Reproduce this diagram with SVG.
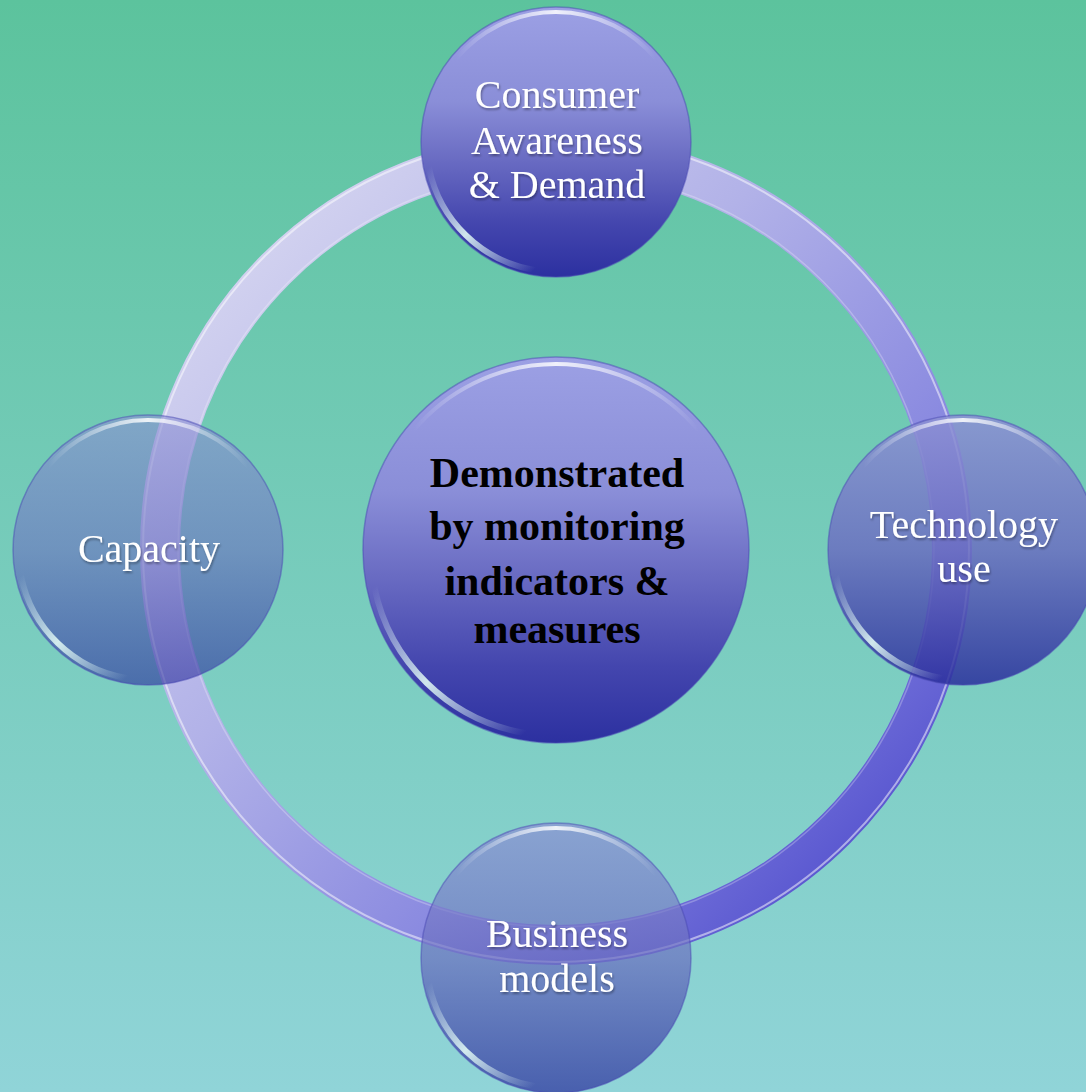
<svg xmlns="http://www.w3.org/2000/svg" width="1086" height="1092" viewBox="0 0 1086 1092">
<defs>
<linearGradient id="bg" x1="0" y1="0" x2="0" y2="1">
<stop offset="0" stop-color="#5cc39d"/>
<stop offset="1" stop-color="#90d4d8"/>
</linearGradient>
<linearGradient id="ringGrad" gradientUnits="userSpaceOnUse" x1="140" y1="133" x2="972" y2="965">
<stop offset="0" stop-color="#e2e2f3"/>
<stop offset="0.4" stop-color="#b2b2e8"/>
<stop offset="0.65" stop-color="#8a8ae0"/>
<stop offset="1" stop-color="#3a36c6"/>
</linearGradient>
<linearGradient id="orb" x1="0" y1="0" x2="0" y2="1">
<stop offset="0" stop-color="#9ca0e4"/>
<stop offset="0.35" stop-color="#8a8ed8"/>
<stop offset="0.55" stop-color="#6c6ec4"/>
<stop offset="0.8" stop-color="#4446ae"/>
<stop offset="1" stop-color="#2c30a0"/>
</linearGradient>
<linearGradient id="orbP" x1="0" y1="0" x2="0" y2="1">
<stop offset="0" stop-color="#8c90d4"/>
<stop offset="0.5" stop-color="#6a6ec0"/>
<stop offset="1" stop-color="#2a2e9c"/>
</linearGradient>
<linearGradient id="hlTop" x1="0" y1="0" x2="1" y2="0">
<stop offset="0" stop-color="#ffffff" stop-opacity="0"/>
<stop offset="0.5" stop-color="#ffffff" stop-opacity="0.85"/>
<stop offset="1" stop-color="#ffffff" stop-opacity="0"/>
</linearGradient>
<linearGradient id="hlBot" x1="1" y1="1" x2="0" y2="0">
<stop offset="0" stop-color="#e0f8f4" stop-opacity="0"/>
<stop offset="0.5" stop-color="#e0f8f4" stop-opacity="0.9"/>
<stop offset="1" stop-color="#e0f8f4" stop-opacity="0"/>
</linearGradient>
<filter id="ts" x="-10%" y="-10%" width="120%" height="130%">
<feDropShadow dx="1" dy="2" stdDeviation="1.2" flood-color="#000" flood-opacity="0.35"/>
</filter>
<g id="gloss">
<circle r="135" fill="none" stroke="#4a4ab4" stroke-opacity="0.5" stroke-width="1.5" vector-effect="non-scaling-stroke"/>
<path d="M -99.6 -83.6 A 130 130 0 0 1 99.6 -83.6" fill="none" stroke="url(#hlTop)" stroke-width="4" stroke-linecap="round" vector-effect="non-scaling-stroke"/>
<path d="M -127 26 A 130 130 0 0 0 -22 128" fill="none" stroke="url(#hlBot)" stroke-width="6" stroke-linecap="round" vector-effect="non-scaling-stroke"/>
</g>
</defs>
<style>
.lbl{font-family:"Liberation Serif","Times New Roman",serif;font-size:40px;fill:#ffffff;text-anchor:middle;filter:url(#ts)}
.ctr{font-family:"Liberation Serif","Times New Roman",serif;font-size:42px;font-weight:bold;fill:#000000;text-anchor:middle}
</style>
<rect width="1086" height="1092" fill="url(#bg)"/>
<g id="connectors">
<circle cx="556" cy="549" r="396" fill="none" stroke="url(#ringGrad)" stroke-width="40"/>
<circle cx="556" cy="549" r="413" fill="none" stroke="#ffffff" stroke-opacity="0.5" stroke-width="2"/>
<circle cx="556" cy="549" r="378" fill="none" stroke="#ffffff" stroke-opacity="0.25" stroke-width="1.5"/>
</g>
<g id="node-center">
<g transform="translate(556,550) scale(1.43)">
<circle r="135" fill="url(#orb)"/>
<use href="#gloss"/>
</g>
<text class="ctr" x="557" y="487">Demonstrated</text>
<text class="ctr" x="557" y="540">by monitoring</text>
<text class="ctr" x="557" y="595">indicators &amp;</text>
<text class="ctr" x="557" y="643">measures</text>
</g>
<g id="node-consumer">
<g transform="translate(556,142)">
<circle r="135" fill="url(#orb)"/>
<use href="#gloss"/>
</g>
<text class="lbl" x="557" y="108">Consumer</text>
<text class="lbl" x="557" y="154">Awareness</text>
<text class="lbl" x="557" y="198">&amp; Demand</text>
</g>
<g id="node-technology">
<g transform="translate(963,550)">
<circle r="135" fill="url(#orbP)" fill-opacity="0.85"/>
<use href="#gloss"/>
</g>
<text class="lbl" x="964" y="538">Technology</text>
<text class="lbl" x="964" y="582">use</text>
</g>
<g id="node-business">
<g transform="translate(556,958)">
<circle r="135" fill="url(#orbP)" fill-opacity="0.7"/>
<use href="#gloss"/>
</g>
<text class="lbl" x="557" y="947">Business</text>
<text class="lbl" x="557" y="992">models</text>
</g>
<g id="node-capacity">
<g transform="translate(148,550)">
<circle r="135" fill="url(#orbP)" fill-opacity="0.6"/>
<use href="#gloss"/>
</g>
<text class="lbl" x="149" y="562">Capacity</text>
</g>
</svg>
